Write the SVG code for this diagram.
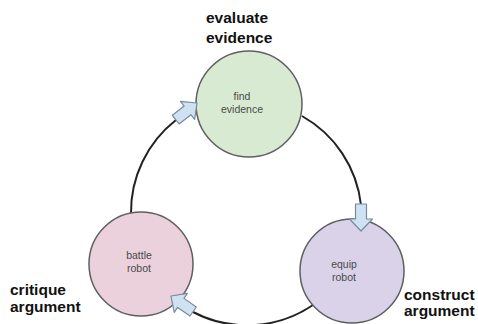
<svg xmlns="http://www.w3.org/2000/svg" width="478" height="324" viewBox="0 0 478 324">
<style>
.node{stroke:#5f5f5f;stroke-width:1.5}
.ntext{font-family:"Liberation Sans",Arial,sans-serif;font-size:10.5px;fill:#4a4a4a;text-anchor:middle}
.label{font-family:"Liberation Sans",Arial,sans-serif;font-size:15.5px;font-weight:bold;fill:#111}
.conn{fill:none;stroke:#222;stroke-width:2}
.arrow{fill:#cfe2f3;stroke:#7a8a99;stroke-width:1.2;stroke-linejoin:round}
</style>
<defs>
<path id="blk" d="M0,0 L-12,-11.5 L-12,-5.5 L-27,-5.5 L-27,5.5 L-12,5.5 L-12,11.5 Z"/>
</defs>
<rect width="478" height="324" fill="#fff"/>
<g id="connectors">
<path class="conn" d="M131,214 A117,117 0 0 1 176,120"/>
<path class="conn" d="M302,116 A117,117 0 0 1 361,205"/>
<path class="conn" d="M313,305 A117,117 0 0 1 193,312"/>
</g>
<g id="node-find-evidence">
<circle class="node" cx="249" cy="104" r="53" fill="#d9ead3"/>
<text class="ntext" x="242" y="100">find</text>
<text class="ntext" x="242" y="113">evidence</text>
</g>
<g id="node-battle-robot">
<circle class="node" cx="141" cy="264" r="52" fill="#ead1dc"/>
<text class="ntext" x="139" y="259">battle</text>
<text class="ntext" x="139" y="272">robot</text>
</g>
<g id="node-equip-robot">
<circle class="node" cx="352" cy="271" r="52" fill="#d9d2e9"/>
<text class="ntext" x="344" y="268">equip</text>
<text class="ntext" x="344" y="281">robot</text>
</g>
<g id="arrows">
<use href="#blk" class="arrow" transform="translate(197,103) rotate(-38)"/>
<use href="#blk" class="arrow" transform="translate(361,231) rotate(90)"/>
<use href="#blk" class="arrow" transform="translate(171,296) rotate(215)"/>
</g>
<g id="labels">
<text class="label" x="206" y="23">evaluate</text>
<text class="label" x="206" y="43">evidence</text>
<text class="label" x="10" y="295">critique</text>
<text class="label" x="10" y="312">argument</text>
<text class="label" x="404" y="300">construct</text>
<text class="label" x="404" y="316">argument</text>
</g>
</svg>
